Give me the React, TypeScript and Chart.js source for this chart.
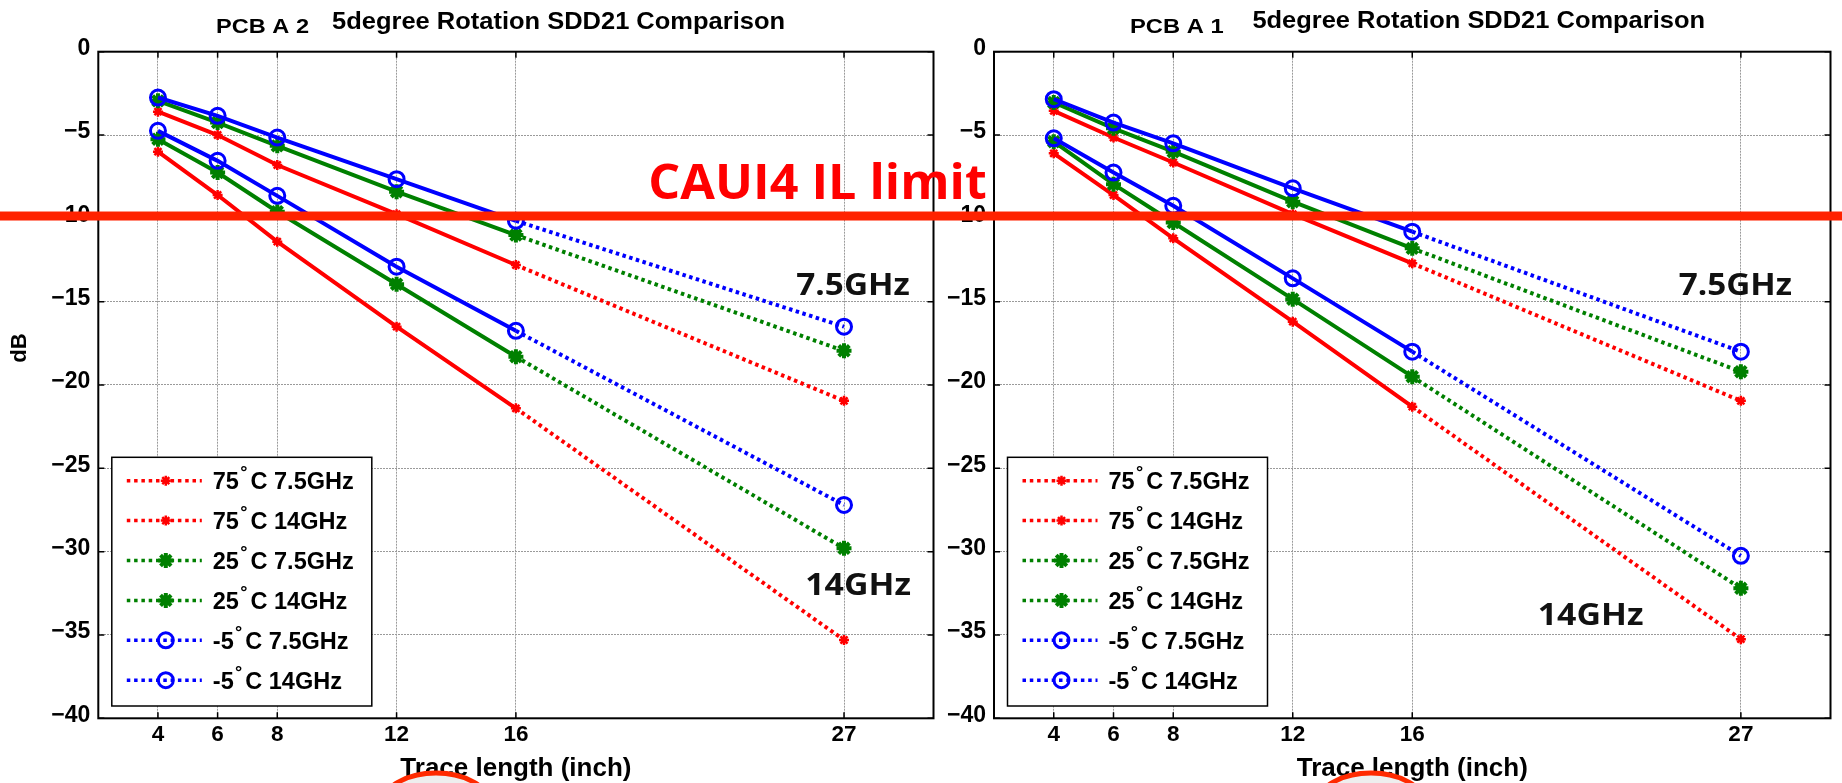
import React, { useEffect, useRef } from 'react';
import { Chart, registerables } from 'chart.js';

Chart.register(...registerables);

// ---------------- data ----------------
const traceLengthInch = [4, 6, 8, 12, 16, 27];
const xTickValues = [4, 6, 8, 12, 16, 27];
const yTickValues = [-40, -35, -30, -25, -20, -15, -10, -5, 0];
const temperatureLabels = ['75', '75', '25', '25', '-5', '-5'];
const frequencyLabels = ['7.5GHz', '14GHz', '7.5GHz', '14GHz', '7.5GHz', '14GHz'];

// PCB A 2 (left panel), SDD21 in dB
const pcbA2_75C_7p5GHz = [-3.6, -5.0, -6.8, -9.75, -12.8, -20.95];
const pcbA2_75C_14GHz = [-6.0, -8.6, -11.4, -16.5, -21.4, -35.3];
const pcbA2_25C_7p5GHz = [-2.95, -4.25, -5.65, -8.4, -11.0, -17.95];
const pcbA2_25C_14GHz = [-5.25, -7.25, -9.6, -13.95, -18.3, -29.8];
const pcbA2_m5C_7p5GHz = [-2.75, -3.85, -5.15, -7.65, -10.15, -16.5];
const pcbA2_m5C_14GHz = [-4.75, -6.55, -8.65, -12.9, -16.75, -27.2];

// PCB A 1 (right panel), SDD21 in dB
const pcbA1_75C_7p5GHz = [-3.55, -5.15, -6.65, -9.75, -12.7, -20.95];
const pcbA1_75C_14GHz = [-6.1, -8.6, -11.2, -16.2, -21.3, -35.25];
const pcbA1_25C_7p5GHz = [-3.05, -4.6, -6.0, -9.0, -11.8, -19.2];
const pcbA1_25C_14GHz = [-5.4, -7.95, -10.25, -14.85, -19.5, -32.2];
const pcbA1_m5C_7p5GHz = [-2.85, -4.25, -5.5, -8.2, -10.8, -18.0];
const pcbA1_m5C_14GHz = [-5.2, -7.25, -9.25, -13.6, -18.0, -30.25];

const caui4LimitDb = -9.86;
const caui4LimitText = 'CAUI4 IL limit';
const xAxisTitle = 'Trace length (inch)';
const yAxisTitle = 'dB';
const mainTitle = '5degree Rotation SDD21 Comparison';

// ---------------- styles / layout ----------------
const PAGE_W = 1842;
const PAGE_H = 783;
const CHART_TOP = 51.7;
const CHART_BOTTOM = 718.3;
const FONT = '"Liberation Sans", Arial, Helvetica, sans-serif';
const OPEN = '"Open Sans", "Liberation Sans", sans-serif';

type SeriesStyle = { color: string; point: 'star' | 'circle'; radius: number; pw: number; fill: string; order: number };
const seriesStyles: SeriesStyle[] = [
  { color: '#ff0000', point: 'star', radius: 5, pw: 2.5, fill: '#ff0000', order: 3 },
  { color: '#ff0000', point: 'star', radius: 5, pw: 2.5, fill: '#ff0000', order: 3 },
  { color: '#008000', point: 'star', radius: 7.5, pw: 4, fill: '#008000', order: 2 },
  { color: '#008000', point: 'star', radius: 7.5, pw: 4, fill: '#008000', order: 2 },
  { color: '#0000ff', point: 'circle', radius: 7.5, pw: 3, fill: 'rgba(0,0,0,0)', order: 1 },
  { color: '#0000ff', point: 'circle', radius: 7.5, pw: 3, fill: 'rgba(0,0,0,0)', order: 1 },
];

type Annot = { text: string; x: number; y: number; width: number };
type Panel = {
  key: string;
  canvasLeft: number;
  canvasWidth: number;
  yAxisWidth: number;
  padRight: number;
  pcbLabel: string;
  pcbPos: [number, number, number]; // page x, baseline, width
  titlePos: [number, number, number];
  series: number[][];
  showYTitle: boolean;
  annotations: Annot[];
  arcCenterX: number;
};

const leftPanel: Panel = {
  key: 'a2',
  canvasLeft: 0,
  canvasWidth: 945,
  yAxisWidth: 98.3,
  padRight: 6.5,
  pcbLabel: 'PCB A 2',
  pcbPos: [216, 32.7, 93],
  titlePos: [332, 28.5, 453],
  series: [pcbA2_75C_7p5GHz, pcbA2_75C_14GHz, pcbA2_25C_7p5GHz, pcbA2_25C_14GHz, pcbA2_m5C_7p5GHz, pcbA2_m5C_14GHz],
  showYTitle: true,
  annotations: [
    { text: '7.5GHz', x: 25.4, y: -14.6, width: 113.5 },
    { text: '14GHz', x: 25.7, y: -32.6, width: 105.7 },
  ],
  arcCenterX: 436,
};

const rightPanel: Panel = {
  key: 'a1',
  canvasLeft: 945,
  canvasWidth: PAGE_W - 945,
  yAxisWidth: 49,
  padRight: 7,
  pcbLabel: 'PCB A 1',
  pcbPos: [1130, 33.3, 93.6],
  titlePos: [1252.4, 28, 452.6],
  series: [pcbA1_75C_7p5GHz, pcbA1_75C_14GHz, pcbA1_25C_7p5GHz, pcbA1_25C_14GHz, pcbA1_m5C_7p5GHz, pcbA1_m5C_14GHz],
  showYTitle: false,
  annotations: [
    { text: '7.5GHz', x: 24.92, y: -14.6, width: 113.3 },
    { text: '14GHz', x: 20.2, y: -34.4, width: 105.7 },
  ],
  arcCenterX: 1371,
};

function fitText(ctx: CanvasRenderingContext2D, text: string, x: number, y: number, width: number, font: string, color: string) {
  ctx.save();
  ctx.font = font;
  ctx.fillStyle = color;
  ctx.textAlign = 'left';
  ctx.textBaseline = 'alphabetic';
  const w = ctx.measureText(text).width;
  ctx.translate(x, y);
  ctx.scale(width / w, 1);
  ctx.fillText(text, 0, 0);
  ctx.restore();
}

function drawMarker(ctx: CanvasRenderingContext2D, st: SeriesStyle, x: number, y: number) {
  ctx.save();
  ctx.setLineDash([]);
  ctx.strokeStyle = st.color;
  ctx.lineWidth = st.pw;
  ctx.beginPath();
  if (st.point === 'circle') {
    ctx.arc(x, y, st.radius, 0, Math.PI * 2);
  } else {
    const r = st.radius;
    const d = r * Math.SQRT1_2;
    ctx.moveTo(x - r, y); ctx.lineTo(x + r, y);
    ctx.moveTo(x, y - r); ctx.lineTo(x, y + r);
    ctx.moveTo(x - d, y - d); ctx.lineTo(x + d, y + d);
    ctx.moveTo(x - d, y + d); ctx.lineTo(x + d, y - d);
  }
  ctx.stroke();
  ctx.restore();
}

function makeDecor(p: Panel) {
  return {
    id: 'decor_' + p.key,
    afterDraw(chart: any) {
      const ctx: CanvasRenderingContext2D = chart.ctx;
      const ca = chart.chartArea;
      const xs = chart.scales.x;
      const ys = chart.scales.y;
      const ox = p.canvasLeft;
      ctx.save();
      ctx.setLineDash([]);
      // axes box
      ctx.strokeStyle = '#000';
      ctx.lineWidth = 2;
      ctx.strokeRect(ca.left, ca.top, ca.right - ca.left, ca.bottom - ca.top);
      // inward ticks
      ctx.lineWidth = 1.5;
      ctx.beginPath();
      xTickValues.forEach((v) => {
        const px = xs.getPixelForValue(v);
        ctx.moveTo(px, ca.bottom); ctx.lineTo(px, ca.bottom - 6);
        ctx.moveTo(px, ca.top); ctx.lineTo(px, ca.top + 6);
      });
      yTickValues.forEach((v) => {
        const py = ys.getPixelForValue(v);
        ctx.moveTo(ca.left, py); ctx.lineTo(ca.left + 6, py);
        ctx.moveTo(ca.right, py); ctx.lineTo(ca.right - 6, py);
      });
      ctx.stroke();

      // legend
      const bw = 260, bh = 248.7;
      const bx = ca.left + 13.5;
      const by = ca.bottom - 12.3 - bh;
      ctx.fillStyle = '#fff';
      ctx.fillRect(bx, by, bw, bh);
      ctx.strokeStyle = '#000';
      ctx.lineWidth = 1.5;
      ctx.strokeRect(bx, by, bw, bh);
      const legendFont = `bold 23.5px ${FONT}`;
      const degFont = `bold 18px ${FONT}`;
      seriesStyles.forEach((st, i) => {
        const cy = by + 23.4 + i * 39.9;
        ctx.save();
        ctx.setLineDash([3.5, 3.8]);
        ctx.lineWidth = 3.5;
        ctx.strokeStyle = st.color;
        ctx.beginPath();
        ctx.moveTo(bx + 15, cy);
        ctx.lineTo(bx + 90, cy);
        ctx.stroke();
        ctx.restore();
        drawMarker(ctx, st, bx + 54, cy);
        ctx.fillStyle = '#000';
        ctx.textAlign = 'left';
        ctx.textBaseline = 'alphabetic';
        const tx = bx + 101;
        const base = cy + 8.3;
        ctx.font = legendFont;
        const t = temperatureLabels[i];
        ctx.fillText(t, tx, base);
        const tw = ctx.measureText(t).width;
        ctx.font = degFont;
        ctx.fillText('°', tx + tw + 1.3, base - 11);
        ctx.font = legendFont;
        ctx.fillText('C ' + frequencyLabels[i], tx + tw + 11.6, base);
      });

      // titles
      fitText(ctx, p.pcbLabel, p.pcbPos[0] - ox, p.pcbPos[1], p.pcbPos[2], `bold 21px ${FONT}`, '#000');
      fitText(ctx, mainTitle, p.titlePos[0] - ox, p.titlePos[1], p.titlePos[2], `bold 24px ${FONT}`, '#000');

      // y axis title
      if (p.showYTitle) {
        ctx.save();
        ctx.translate(20 - ox, 348);
        ctx.rotate(-Math.PI / 2);
        ctx.font = `bold 22px ${FONT}`;
        ctx.fillStyle = '#000';
        ctx.textAlign = 'center';
        ctx.textBaseline = 'middle';
        ctx.fillText(yAxisTitle, 0, 0);
        ctx.restore();
      }

      // frequency group annotations
      p.annotations.forEach((a) => {
        fitText(ctx, a.text, xs.getPixelForValue(a.x), ys.getPixelForValue(a.y), a.width, `bold 31px ${OPEN}`, '#111');
      });

      // CAUI4 limit line (spans the whole figure)
      const ly = ys.getPixelForValue(caui4LimitDb);
      ctx.fillStyle = '#ff2200';
      ctx.fillRect(0, ly - 4.5, chart.width, 9);
      fitText(ctx, caui4LimitText, 648.3 - ox, 199.3, 338.4, `bold 49px ${OPEN}`, '#ff0000');

      // red marking arc at the bottom
      ctx.beginPath();
      ctx.ellipse(p.arcCenterX - ox, 773 + 32, 54, 32, 0, 0, Math.PI * 2);
      ctx.fillStyle = '#eeeeee';
      ctx.fill();
      ctx.lineWidth = 5;
      ctx.strokeStyle = '#ff2a00';
      ctx.stroke();
      ctx.restore();
    },
  };
}

function buildConfig(p: Panel): any {
  const datasets = p.series.map((vals, i) => {
    const st = seriesStyles[i];
    return {
      label: `${temperatureLabels[i]}°C ${frequencyLabels[i]}`,
      data: traceLengthInch.map((x, j) => ({ x, y: vals[j] })),
      borderColor: st.color,
      backgroundColor: st.fill,
      borderWidth: 4,
      pointStyle: st.point,
      pointRadius: st.radius,
      pointBorderWidth: st.pw,
      pointBorderColor: st.color,
      pointBackgroundColor: st.fill,
      tension: 0,
      order: st.order,
      segment: {
        borderDash: (c: any) => (c.p1.parsed.x > 16 ? [3.5, 3.5] : undefined),
      },
    };
  });
  const gridOpts = { color: '#9a9a9a', lineWidth: 1, drawTicks: false };
  return {
    type: 'line',
    data: { datasets },
    options: {
      animation: false,
      responsive: false,
      maintainAspectRatio: false,
      layout: { padding: { top: CHART_TOP, left: 0, right: p.padRight, bottom: 0 } },
      plugins: { legend: { display: false }, tooltip: { enabled: false }, title: { display: false } },
      scales: {
        x: {
          type: 'linear',
          min: 2,
          max: 30,
          afterBuildTicks: (s: any) => { s.ticks = xTickValues.map((v) => ({ value: v })); },
          afterFit: (s: any) => { s.height = PAGE_H - CHART_BOTTOM; },
          ticks: { autoSkip: false, maxRotation: 0, padding: 3, color: '#000', font: { family: FONT, size: 22.5, weight: 'bold' }, callback: (v: any) => String(v) },
          grid: gridOpts,
          border: { display: false, dash: [2, 1] },
          title: { display: true, text: xAxisTitle, color: '#000', font: { family: FONT, size: 26, weight: 'bold' }, padding: { top: 0, bottom: -1 } },
        },
        y: {
          type: 'linear',
          min: -40,
          max: 0,
          afterBuildTicks: (s: any) => { s.ticks = yTickValues.map((v) => ({ value: v })); },
          afterFit: (s: any) => { s.width = p.yAxisWidth; },
          ticks: {
            padding: 8,
            labelOffset: -3,
            color: '#000',
            font: { family: FONT, size: 23, weight: 'bold' },
            callback: (v: any) => String(v).replace('-', '\u2212'),
          },
          grid: gridOpts,
          border: { display: false, dash: [2, 1] },
        },
      },
    },
    plugins: [makeDecor(p)],
  };
}

function PanelChart({ panel }: { panel: Panel }) {
  const ref = useRef<HTMLCanvasElement | null>(null);
  useEffect(() => {
    if (!ref.current) return;
    const chart = new Chart(ref.current, buildConfig(panel));
    return () => chart.destroy();
  }, [panel]);
  return (
    <canvas
      ref={ref}
      width={panel.canvasWidth}
      height={PAGE_H}
      style={{ position: 'absolute', left: panel.canvasLeft, top: 0, width: panel.canvasWidth, height: PAGE_H, display: 'block' }}
    />
  );
}

export default function App() {
  return (
    <div style={{ position: 'fixed', left: 0, top: 0, width: PAGE_W, height: PAGE_H, background: '#fff', overflow: 'hidden' }}>
      <PanelChart panel={leftPanel} />
      <PanelChart panel={rightPanel} />
    </div>
  );
}
